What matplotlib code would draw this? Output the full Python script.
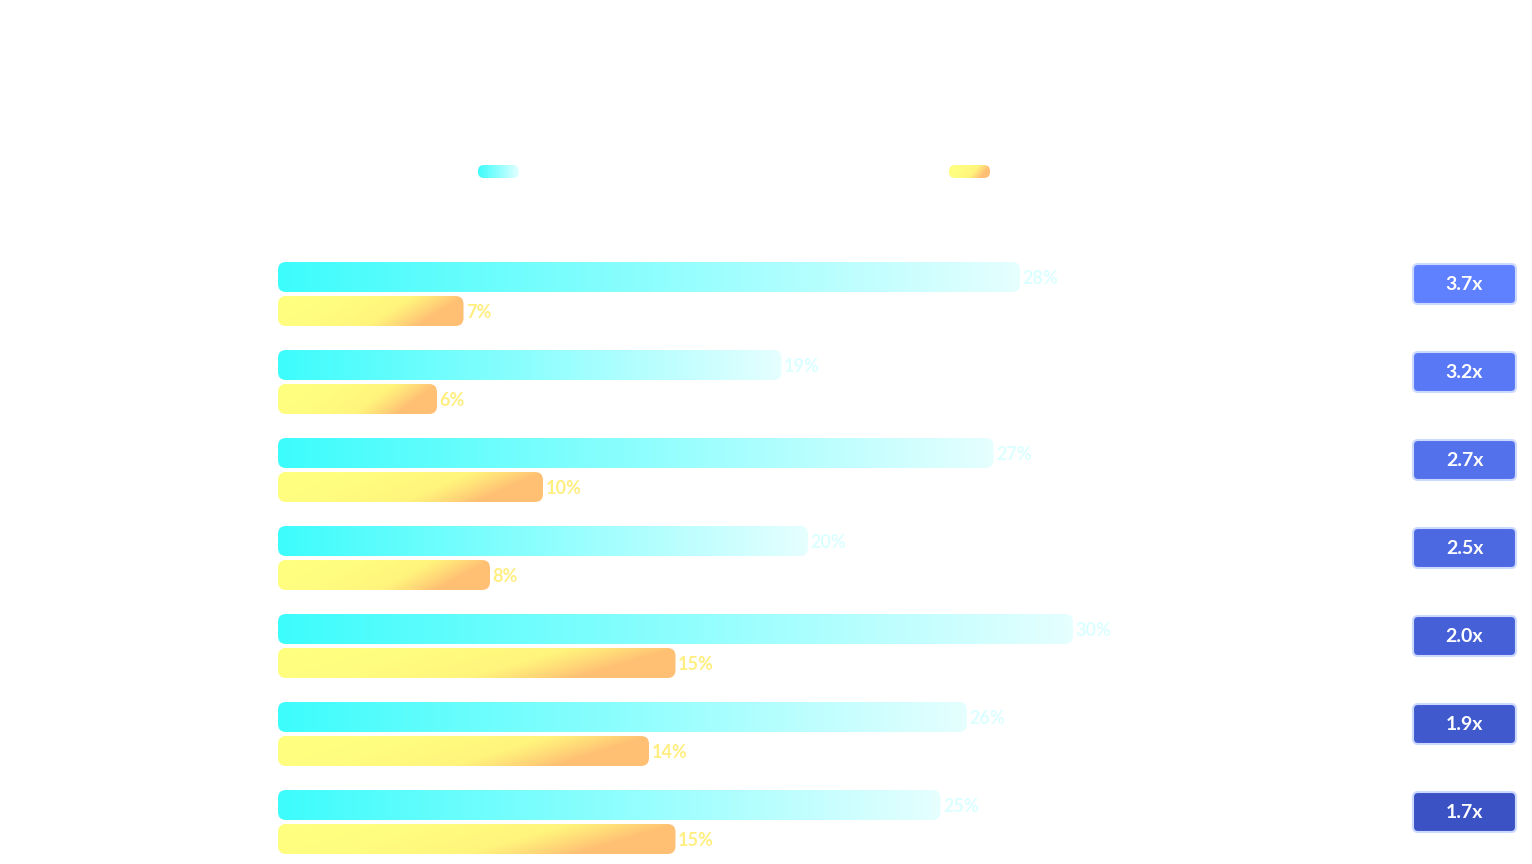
import numpy as np
import matplotlib.pyplot as plt
from matplotlib.patches import FancyBboxPatch
from matplotlib.colors import LinearSegmentedColormap

# ── data ─────────────────────────────────────────────────────────────────────
series_a = [28, 19, 27, 20, 30, 26, 25]
series_b = [7, 6, 10, 8, 15, 14, 15]
ratios = ["3.7x", "3.2x", "2.7x", "2.5x", "2.0x", "1.9x", "1.7x"]

PX = 26.5            # pixels per percentage point
X0 = 278             # pixel position of zero
W, H = 1532, 864

fig = plt.figure(figsize=(W / 100, H / 100), dpi=100)
ax = fig.add_axes([0, 0, 1, 1])
ax.set_xlim(-X0 / PX, (W - X0) / PX)
ax.set_ylim(H, 0)
ax.axis("off")

cyan = LinearSegmentedColormap.from_list("c", ["#3dfcfc", "#8dfefe", "#e6ffff"])
yell = LinearSegmentedColormap.from_list("y", ["#ffff80", "#fff47c", "#ffc074"])
blue_top, blue_bot = np.array([0x5f, 0x80, 0xff]) / 255, np.array([0x3a, 0x52, 0xc4]) / 255


def grad_bar(x0, x1, yc, h, cmap, diag=False, rad=8):
    patch = FancyBboxPatch((x0, yc - h / 2), x1 - x0, h,
                           boxstyle=f"round,pad=0,rounding_size={rad / PX}",
                           mutation_aspect=PX, lw=0, fc="none")
    ax.add_patch(patch)
    xs = np.linspace(0, 1, 256)
    if diag:
        g = np.clip((xs[None, :] * 1.0 + np.linspace(0, 0.25, 20)[:, None]) ** 2.2, 0, 1)
    else:
        g = np.tile(xs, (20, 1))
    im = ax.imshow(g, cmap=cmap, extent=(x0, x1, yc + h / 2, yc - h / 2),
                   aspect="auto", interpolation="bilinear", vmin=0, vmax=1)
    im.set_clip_path(patch)


row0, step = 277, 88
for i, (a, b, r) in enumerate(zip(series_a, series_b, ratios)):
    yc = row0 + i * step
    grad_bar(0, a, yc, 30, cyan)
    grad_bar(0, b, yc + 34, 30, yell, diag=True)
    ax.text(a + 0.1, yc + 2, f"{a}%", color="#dcffff", fontsize=13,
            fontweight="bold", family="Lato", va="center", ha="left")
    ax.text(b + 0.1, yc + 36, f"{b}%", color="#ffee80", fontsize=13,
            fontweight="bold", family="Lato", va="center", ha="left")
    # badge
    t = i / (len(ratios) - 1)
    col = blue_top * (1 - t) + blue_bot * t
    bx0 = (1413 - X0) / PX
    bw = 103 / PX
    ax.add_patch(FancyBboxPatch((bx0, yc + 7 - 20), bw, 40,
                                boxstyle=f"round,pad=0,rounding_size={5 / PX}",
                                mutation_aspect=PX, fc=col, ec=(0.8, 0.85, 1.0),
                                lw=1.5))
    ax.text(bx0 + bw / 2, yc + 8, r, color="white", fontsize=14,
            fontweight="bold", family="Lato", ha="center", va="center")

# legend swatches
grad_bar((478 - X0) / PX, (519 - X0) / PX, 171.5, 13, cyan, rad=6)
grad_bar((949 - X0) / PX, (990 - X0) / PX, 171.5, 13, yell, diag=True, rad=6)

fig.savefig("out.png", dpi=100, facecolor="white")
